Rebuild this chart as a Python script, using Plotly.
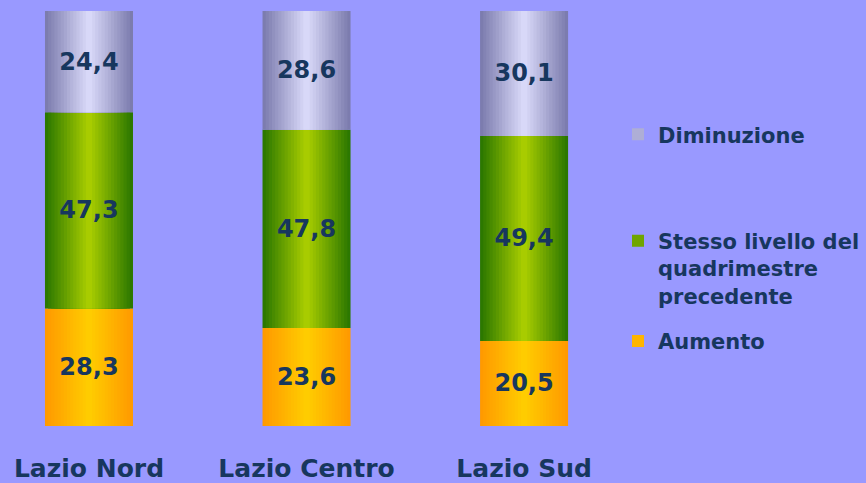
import plotly.graph_objects as go

categories = ["Lazio Nord", "Lazio Centro", "Lazio Sud"]
aumento = [28.3, 23.6, 20.5]
stesso = [47.3, 47.8, 49.4]
diminuzione = [24.4, 28.6, 30.1]
series_names = ["Aumento", "Stesso livello del<br>quadrimestre<br>precedente", "Diminuzione"]

TEXT = "#17375E"
BG = "#9999FF"
W = 0.4046
N = 14

def hex2rgb(h):
    h = h.lstrip("#")
    return tuple(int(h[i:i + 2], 16) for i in (0, 2, 4))

def mix(a, b, t):
    ca, cb = hex2rgb(a), hex2rgb(b)
    return "rgb(%d,%d,%d)" % tuple(round(ca[i] + (cb[i] - ca[i]) * t) for i in range(3))

series = [
    (series_names[0], aumento, "#FF9A00", "#FFCC00", "legend3"),
    (series_names[1], stesso, "#2C7800", "#A8CC00", "legend2"),
    (series_names[2], diminuzione, "#7C7CAE", "#D8D8F8", "legend"),
]

fig = go.Figure()
base = [0.0] * len(categories)
for name, vals, edge, center, leg in series:
    for k in range(N):
        t = k / (N - 1)
        fig.add_trace(go.Bar(
            x=categories, y=vals, base=base,
            width=W * (1 - k / N),
            marker=dict(color=mix(edge, center, t), line=dict(width=0)),
            name=name, showlegend=(k == N // 2), legend=leg,
            hoverinfo="skip",
        ))
    fig.add_trace(go.Bar(
        x=categories, y=vals, base=base, width=W,
        marker=dict(color="rgba(0,0,0,0)", line=dict(width=0)),
        text=[f"{v:.1f}".replace(".", ",") for v in vals],
        textposition="inside", insidetextanchor="middle",
        constraintext="none",
        textfont=dict(family="DejaVu Sans", size=24, color=TEXT, weight="bold"),
        showlegend=False, hoverinfo="skip",
    ))
    base = [b + v for b, v in zip(base, vals)]

legfont = dict(family="DejaVu Sans", size=21, color=TEXT, weight="bold")
common = dict(bgcolor="rgba(0,0,0,0)", font=legfont, xanchor="left",
              valign="top", itemsizing="constant", borderwidth=0)

fig.update_layout(
    width=866, height=483,
    paper_bgcolor=BG, plot_bgcolor=BG,
    barmode="overlay",
    margin=dict(l=0, r=266, t=11, b=55),
    xaxis=dict(range=[-0.409, 2.349], showgrid=False, zeroline=False,
               showline=False, ticks="", ticklabelstandoff=25,
               tickfont=dict(family="DejaVu Sans", size=25, color=TEXT, weight="bold")),
    yaxis=dict(range=[0, 100], visible=False),
    legend=dict(x=1.03, y=0.702, yanchor="middle", **common),
    legend2=dict(x=1.03, y=0.495, yanchor="top", **common),
    legend3=dict(x=1.03, y=0.204, yanchor="middle", **common),
)

fig.write_html("out.html", config={"displayModeBar": False},
               post_script="document.body.style.margin='0';document.body.style.overflow='hidden';")
